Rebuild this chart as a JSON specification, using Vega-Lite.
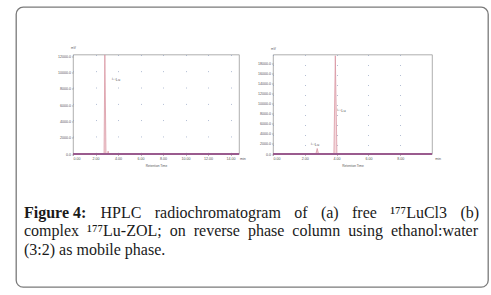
{
  "$schema": "https://vega.github.io/schema/vega-lite/v6.json",
  "autosize": {"type": "pad"},
  "padding": {"left": 15, "top": 6, "right": 3, "bottom": 8},
  "background": "white",
  "config": {
    "view": {"stroke": null},
    "axis": {
      "labelFont": "Liberation Sans", "labelFontSize": 3.6, "labelColor": "#555",
      "titleFont": "Liberation Sans", "titleFontSize": 3.2, "titleColor": "#555", "titleFontWeight": "normal",
      "tickColor": "#888", "tickSize": 1.5, "tickWidth": 0.6, "labelPadding": 1, "domain": false
    }
  },
  "bounds": "flush",
  "spacing": 47.5,
  "vconcat": [
    {
      "vconcat": [
        {
          "width": 472, "height": 280,
          "view": {"stroke": "#7a7a7a", "strokeWidth": 1.3, "cornerRadius": 7},
          "data": {"values": [
            {"line": 1, "part": "b", "text": "Figure 4:"},
            {"line": 1, "part": "r", "text": "HPLC\u2002\u2004radiochromatogram\u2002\u2004of\u2002\u2004(a)\u2002\u2004free\u2002\u2004¹⁷⁷LuCl3\u2002\u2004(b)"},
            {"line": 2, "part": "n", "text": "complex\u2002¹⁷⁷Lu-ZOL;\u2002on\u2002reverse\u2002phase\u2002column\u2002using\u2002ethanol:water"},
            {"line": 3, "part": "n", "text": "(3:2) as mobile phase."}
          ]},
          "encoding": {
            "x": {"datum": 0, "type": "quantitative", "scale": {"domain": [-8, 464], "nice": false, "zero": false}, "axis": null},
            "y": {"field": "line", "type": "quantitative", "scale": {"domain": [-10.135, 5.0], "reverse": true, "nice": false, "zero": false}, "axis": null},
            "text": {"field": "text"}
          },
          "layer": [
            {"transform": [{"filter": "datum.part == 'b'"}],
             "mark": {"type": "text", "align": "left", "baseline": "middle", "font": "Liberation Serif", "fontSize": 16, "fontWeight": "bold", "color": "#1a1a1a"}},
            {"transform": [{"filter": "datum.part == 'r'"}],
             "mark": {"type": "text", "align": "left", "baseline": "middle", "font": "Liberation Serif", "fontSize": 16, "color": "#1a1a1a", "dx": 76.5}},
            {"transform": [{"filter": "datum.part == 'n'"}],
             "mark": {"type": "text", "align": "left", "baseline": "middle", "font": "Liberation Serif", "fontSize": 16, "color": "#1a1a1a"}}
          ]
        }
      ]
    },
    {
      "bounds": "flush",
      "spacing": 34,
      "hconcat": [
        {"width": 23, "height": 10, "data": {"values": []}, "mark": "point", "encoding": {}},
        {
          "width": 166, "height": 99.5,
          "view": {"stroke": "#9a9a9a", "strokeWidth": 0.8},
          "data": {"values": [
            {"s": "signal", "t": 0, "mV": 60}, {"s": "signal", "t": 2.76, "mV": 60},
            {"s": "signal", "t": 2.83, "mV": 12150}, {"s": "signal", "t": 2.93, "mV": 60},
            {"s": "signal", "t": 3.08, "mV": 60}, {"s": "signal", "t": 3.12, "mV": 350},
            {"s": "signal", "t": 3.16, "mV": 60}, {"s": "signal", "t": 14.75, "mV": 60},
            {"s": "baseline", "t": 0, "mV": 0}, {"s": "baseline", "t": 14.75, "mV": 0}
          ]},
          "encoding": {
            "x": {"field": "t", "type": "quantitative",
                  "scale": {"domain": [0, 14.75], "nice": false, "zero": false},
                  "axis": {"values": [0, 2, 4, 6, 8, 10, 12, 14], "format": ".2f", "title": "Retention Time", "titlePadding": 3,
                           "grid": true, "gridColor": "#8899bb", "gridWidth": 0.8, "gridDash": [0.8, 15.51]}},
            "y": {"field": "mV", "type": "quantitative",
                  "scale": {"domain": [0, 12200], "nice": false},
                  "axis": {"values": [0, 2000, 4000, 6000, 8000, 10000, 12000], "format": ".1f", "grid": false,
                           "title": "mV", "titleAngle": 0, "titleX": 0, "titleY": -7, "titleAlign": "center", "titleBaseline": "middle"}}
          },
          "layer": [
            {"transform": [{"filter": "datum.s == 'signal'"}], "mark": {"type": "area", "color": "#f4d9dd"}},
            {"transform": [{"filter": "datum.s == 'signal'"}], "mark": {"type": "line", "color": "#d58e9b", "strokeWidth": 0.7}},
            {"transform": [{"filter": "datum.s == 'baseline'"}], "mark": {"type": "line", "color": "#9a5b8e", "strokeWidth": 1.8}},
            {"data": {"values": [{"label": "¹⁷⁷Lu", "t": 3.82, "mV": 9080}]},
             "mark": {"type": "text", "font": "Liberation Sans", "fontSize": 4, "color": "#555", "align": "center"},
             "encoding": {"text": {"field": "label"}}},
            {"data": {"values": [{"label": "min", "t": 15.1, "mV": 0}]},
             "mark": {"type": "text", "font": "Liberation Sans", "fontSize": 3.6, "color": "#555", "align": "center", "dy": 4.7},
             "encoding": {"text": {"field": "label"}}}
          ]
        },
        {
          "width": 159, "height": 99.5,
          "view": {"stroke": "#9a9a9a", "strokeWidth": 0.8},
          "data": {"values": [
            {"s": "signal", "t": 0, "mV": 60}, {"s": "signal", "t": 2.7, "mV": 60},
            {"s": "signal", "t": 2.78, "mV": 1100}, {"s": "signal", "t": 2.86, "mV": 60},
            {"s": "signal", "t": 3.83, "mV": 60}, {"s": "signal", "t": 3.92, "mV": 19600},
            {"s": "signal", "t": 4.02, "mV": 60}, {"s": "signal", "t": 10, "mV": 60},
            {"s": "baseline", "t": 0, "mV": 0}, {"s": "baseline", "t": 10, "mV": 0}
          ]},
          "encoding": {
            "x": {"field": "t", "type": "quantitative",
                  "scale": {"domain": [0, 10], "nice": false, "zero": false},
                  "axis": {"values": [0, 2, 4, 6, 8], "format": ".2f", "title": "Retention Time", "titlePadding": 3,
                           "grid": true, "gridColor": "#8899bb", "gridWidth": 0.8, "gridDash": [0.8, 9.22]}},
            "y": {"field": "mV", "type": "quantitative",
                  "scale": {"domain": [0, 19850], "nice": false},
                  "axis": {"values": [0, 2000, 4000, 6000, 8000, 10000, 12000, 14000, 16000, 18000], "format": ".1f", "grid": false,
                           "title": "mV", "titleAngle": 0, "titleX": 0, "titleY": -6, "titleAlign": "center", "titleBaseline": "middle"}}
          },
          "layer": [
            {"transform": [{"filter": "datum.s == 'signal'"}], "mark": {"type": "area", "color": "#f4d9dd"}},
            {"transform": [{"filter": "datum.s == 'signal'"}], "mark": {"type": "line", "color": "#d58e9b", "strokeWidth": 0.7}},
            {"transform": [{"filter": "datum.s == 'baseline'"}], "mark": {"type": "line", "color": "#9a5b8e", "strokeWidth": 1.8}},
            {"data": {"values": [{"label": "¹⁷⁷Lu", "t": 4.3, "mV": 8560}, {"label": "¹⁷⁷Lu", "t": 2.64, "mV": 1790}]},
             "mark": {"type": "text", "font": "Liberation Sans", "fontSize": 4, "color": "#555", "align": "center"},
             "encoding": {"text": {"field": "label"}}},
            {"data": {"values": [{"label": "min", "t": 10.38, "mV": 0}]},
             "mark": {"type": "text", "font": "Liberation Sans", "fontSize": 3.6, "color": "#555", "align": "center", "dy": 4.7},
             "encoding": {"text": {"field": "label"}}}
          ]
        }
      ]
    }
  ]
}
